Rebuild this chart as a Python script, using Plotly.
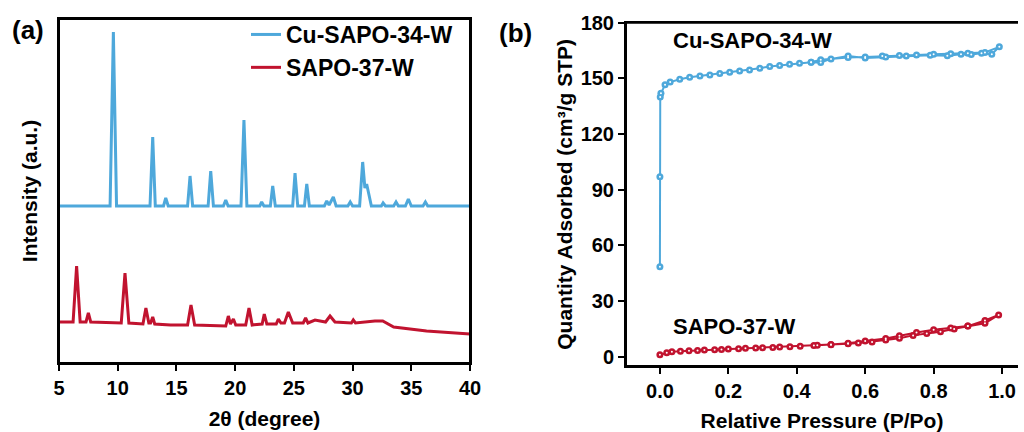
import plotly.graph_objects as go

# ---------------- (a) XRD patterns (stacked, arbitrary units) ----------------
xrd_34_theta = [5.0, 9.35, 9.63, 9.9, 12.75, 12.98, 13.2, 13.9, 14.09, 14.3,
                15.95, 16.16, 16.38, 17.7, 17.92, 18.15, 19.0, 19.2, 19.4,
                20.5, 20.75, 21.0, 22.1, 22.26, 22.45, 23.0, 23.2, 23.42,
                24.9, 25.1, 25.33, 25.9, 26.1, 26.32, 27.6, 27.8, 28.0, 28.36, 28.6,
                29.6, 29.8, 30.0, 30.6, 30.86, 31.05, 31.2, 31.4, 31.6,
                32.45, 32.6, 32.8, 33.5, 33.7, 33.9, 34.5, 34.75, 35.0,
                36.0, 36.2, 36.4, 40.0]
xrd_34_int = [157, 157, 331, 157, 157, 226, 157, 157, 165, 157,
              157, 187, 157, 157, 192, 157, 157, 163, 157,
              157, 243, 157, 157, 161, 157, 157, 177, 157,
              157, 190, 157, 157, 179, 157, 157, 162, 158, 166, 157,
              157, 161, 157, 157, 201, 175, 179, 168, 157,
              157, 160, 157, 157, 161, 157, 157, 164, 157,
              157, 161, 157, 157]

xrd_37_theta = [5.0, 6.2, 6.5, 6.8, 7.3, 7.5, 7.7, 10.3, 10.62, 10.95,
                12.15, 12.4, 12.65, 12.8, 12.98, 13.15, 14.5,
                15.95, 16.24, 16.55, 19.2, 19.42, 19.6, 19.85, 20.05,
                20.9, 21.18, 21.45, 22.3, 22.48, 22.7, 23.5, 23.68, 23.9,
                24.2, 24.53, 24.9, 25.8, 26.0, 26.2, 26.8, 27.7, 28.08, 28.5,
                29.9, 30.06, 30.25, 31.9, 32.57, 32.9, 33.5, 36.3, 39.8, 40.0]
xrd_37_int = [41, 41, 97, 41, 41, 50, 41, 40, 90, 40,
              39, 55, 40, 40, 46, 39, 38,
              38, 58, 38, 37, 47, 39, 44, 38,
              38, 55, 38, 39, 49, 39, 39, 44, 40,
              40, 51, 40, 40, 45, 40, 43, 41, 47, 41,
              40, 43, 40, 42, 42, 40, 36, 32, 29, 29]

# ---------------- (b) N2 isotherms ----------------
iso_34_p = [0.000, 0.000, 0.001, 0.003, 0.015, 0.03, 0.058, 0.087, 0.117, 0.146,
            0.175, 0.204, 0.233, 0.262, 0.292, 0.321, 0.35, 0.379, 0.408, 0.442,
            0.47, 0.55, 0.6, 0.65, 0.7, 0.75, 0.8, 0.85, 0.9, 0.95, 0.992,
            0.97, 0.94, 0.91, 0.88, 0.84, 0.79, 0.72, 0.66, 0.6, 0.55, 0.5, 0.47, 0.442]
iso_34_v = [48.5, 97, 140, 142, 146.5, 148, 149.5, 150.6, 151.3, 151.8,
            152.6, 153.3, 154, 154.5, 155.5, 156.4, 156.9, 157.6, 158.2, 158.7,
            160, 161.3, 161.5, 162, 162.3, 162.6, 163, 163.3, 163.5, 164, 167,
            163, 163.5, 162.8, 163, 162.2, 162.5, 162, 161.5, 161, 162, 160.5, 158.5, 158.7]

iso_37_p = [0.0, 0.02, 0.035, 0.06, 0.085, 0.11, 0.13, 0.16, 0.18, 0.2,
            0.23, 0.25, 0.28, 0.3, 0.33, 0.35, 0.38, 0.41, 0.45, 0.5,
            0.55, 0.58, 0.62, 0.66, 0.7, 0.74, 0.78, 0.82, 0.86, 0.9, 0.95, 0.99,
            0.95, 0.9, 0.85, 0.8, 0.75, 0.7, 0.66, 0.6, 0.55, 0.5, 0.46]
iso_37_v = [1.0, 2.2, 2.7, 3.0, 3.2, 3.4, 3.6, 3.8, 3.9, 4.1,
            4.3, 4.5, 4.7, 4.8, 5.0, 5.2, 5.4, 5.6, 6.0, 6.5,
            7.0, 7.4, 8.0, 9.0, 10.0, 11.5, 12.5, 13.5, 15.0, 16.5, 18.0, 22.5,
            19.5, 16.5, 15.5, 14.5, 13.0, 11.3, 9.8, 8.5, 7.3, 6.6, 6.2]

BLUE = "#4ea8db"
RED = "#c1132f"
FONT = "Liberation Sans, Arial, sans-serif"

def b(t):
    return "<b>" + t + "</b>"

fig = go.Figure()

fig.add_trace(go.Scatter(x=xrd_34_theta, y=xrd_34_int, mode="lines", name=b("Cu-SAPO-34-W"),
                         line=dict(color=BLUE, width=3), xaxis="x", yaxis="y"))
fig.add_trace(go.Scatter(x=xrd_37_theta, y=xrd_37_int, mode="lines", name=b("SAPO-37-W"),
                         line=dict(color=RED, width=3), xaxis="x", yaxis="y"))

for p, v, c in [(iso_34_p, iso_34_v, BLUE), (iso_37_p, iso_37_v, RED)]:
    fig.add_trace(go.Scatter(x=p, y=v, mode="lines+markers", showlegend=False,
                             line=dict(color=c, width=2),
                             marker=dict(color=c, size=7),
                             xaxis="x2", yaxis="y2"))
    fig.add_trace(go.Scatter(x=p, y=v, mode="markers", showlegend=False,
                             marker=dict(color="white", size=2),
                             xaxis="x2", yaxis="y2"))

W, H = 1024, 432
ML, MR, MT, MB = 6, 6, 6, 6   # small non-zero margins; paper coords refer to plot area

def px(x):
    return (x - ML) / (W - ML - MR)
def py(y):
    return 1 - (y - MT) / (H - MT - MB)

TICKFONT = dict(family=FONT, size=20, color="black")
TITLEFONT = dict(family=FONT, size=21, color="black")

axis_common = dict(showline=True, linecolor="black", linewidth=2, showgrid=False,
                   zeroline=False, ticks="outside", tickcolor="black", tickwidth=2,
                   ticklen=6, tickfont=TICKFONT, tickprefix="<b>", ticksuffix="</b>")
minor_axis = dict(showline=False, showgrid=False, zeroline=False, showticklabels=False,
                  ticks="outside", tickcolor="black", tickwidth=2, ticklen=3)

L0, L1, LB, LT = px(59), px(470), py(363), py(19)
R0, R1, RB, RT = px(626), 1.0, py(366), py(22.7)
X2_RANGE = [-0.0991, 1.0466]

FRAME = dict(color="black", width=2)
shapes = [
    dict(type="rect", xref="paper", yref="paper", x0=L0, x1=L1, y0=LB, y1=LT,
         line=FRAME, layer="above"),
    dict(type="line", xref="paper", yref="paper", x0=R0, x1=R0, y0=RB, y1=RT,
         line=FRAME, layer="above"),
    dict(type="line", xref="paper", yref="paper", x0=R0, x1=R1, y0=RB, y1=RB,
         line=FRAME, layer="above"),
    dict(type="line", xref="paper", yref="paper", x0=R0, x1=R1, y0=RT, y1=RT,
         line=FRAME, layer="above"),
]

fig.update_layout(
    width=W, height=H, margin=dict(l=ML, r=MR, t=MT, b=MB, autoexpand=False),
    paper_bgcolor="white", plot_bgcolor="white",
    font=dict(family=FONT, color="black"),
    shapes=shapes,
    xaxis=dict(axis_common, domain=[L0, L1], range=[5, 40], dtick=5, anchor="y", mirror=True,
               title=dict(text=b("2θ (degree)"), standoff=13, font=TITLEFONT)),
    yaxis=dict(showline=True, linecolor="black", linewidth=2, mirror=True, showgrid=False,
               zeroline=False, showticklabels=False, ticks="", anchor="x",
               domain=[LB, LT], range=[0, 344],
               title=dict(text=b("Intensity (a.u.)"), standoff=14, font=TITLEFONT)),
    xaxis2=dict(axis_common, domain=[R0, R1], range=X2_RANGE, dtick=0.2,
                tick0=0, tickformat=".1f", anchor="y2", mirror=True,
                title=dict(text=b("Relative Pressure (P/Po)"), standoff=13, font=TITLEFONT)),
    yaxis2=dict(axis_common, domain=[RB, RT], range=[-5, 180], dtick=30,
                tick0=0, anchor="x2",
                title=dict(text=b("Quantity Adsorbed (cm³/g STP)"), standoff=2, font=TITLEFONT)),
    # minor tick axes overlaid on the main ones
    xaxis3=dict(minor_axis, overlaying="x", anchor="y", side="bottom",
                range=[5, 40], tick0=5, dtick=2.5),
    xaxis4=dict(minor_axis, overlaying="x2", anchor="y2", side="bottom",
                range=X2_RANGE, tick0=0, dtick=0.1),
    yaxis3=dict(minor_axis, overlaying="y2", anchor="x2", side="left",
                range=[-5, 180], tick0=0, dtick=15),
    legend=dict(x=px(246), y=py(13), xanchor="left", yanchor="top",
                bgcolor="rgba(0,0,0,0)", borderwidth=0, tracegroupgap=0,
                font=dict(family=FONT, size=23, color="black")),
    annotations=[
        dict(text=b("(a)"), x=px(28), y=py(30), xref="paper", yref="paper", showarrow=False,
             xanchor="center", yanchor="middle", font=dict(family=FONT, size=26, color="black")),
        dict(text=b("(b)"), x=px(515), y=py(33), xref="paper", yref="paper", showarrow=False,
             xanchor="center", yanchor="middle", font=dict(family=FONT, size=26, color="black")),
        dict(text=b("Cu-SAPO-34-W"), x=px(671), y=py(40), xref="paper", yref="paper",
             xanchor="left", yanchor="middle", showarrow=False,
             font=dict(family=FONT, size=22, color="black")),
        dict(text=b("SAPO-37-W"), x=px(671), y=py(326), xref="paper", yref="paper",
             xanchor="left", yanchor="middle", showarrow=False,
             font=dict(family=FONT, size=22, color="black")),
    ],
)
fig.update_xaxes(automargin=False, zeroline=False, showgrid=False)
fig.update_yaxes(automargin=False, zeroline=False, showgrid=False)

fig.write_html("out.html")
